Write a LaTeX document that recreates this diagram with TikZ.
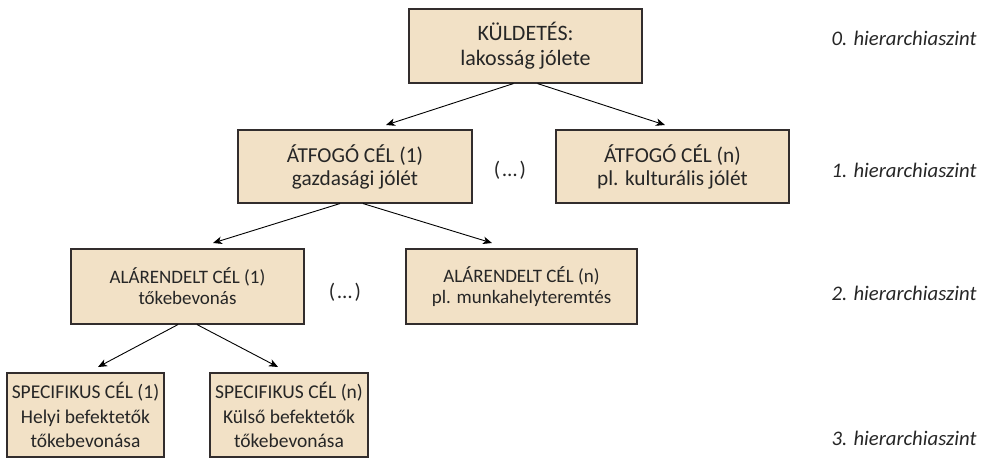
\documentclass[tikz,border=0pt]{standalone}
\usepackage{fontspec}
\setmainfont{Carlito}
\usetikzlibrary{arrows.meta,calc}
\definecolor{boxfill}{RGB}{242,225,198}
\definecolor{boxline}{RGB}{50,45,45}
\begin{document}
\begin{tikzpicture}[x=1pt,y=-1pt,
  goal/.style={draw=boxline,line width=1.1pt,fill=boxfill,align=center,inner sep=0pt,text=black!85},
  lvl0/.style={goal,font=\fontsize{22}{25}\selectfont},
  lvl1/.style={goal,font=\fontsize{21.3}{23}\selectfont},
  lvl2/.style={goal,font=\fontsize{19}{21}\selectfont},
  lvl3/.style={goal,font=\fontsize{19.5}{24.5}\selectfont},
  dots/.style={font=\fontsize{21}{22}\selectfont,text=black!85},
  level/.style={anchor=east,font=\fontsize{20.7}{22}\selectfont\itshape,text=black!85},
  conn/.style={line width=0.9pt,-{Stealth[length=9pt,width=7.5pt,inset=2.5pt]}}]
\useasboundingbox (0,0) rectangle (989,458);
% boxes
\node[lvl0,minimum width=233pt,minimum height=74pt] (k0) at (525.5,46) {KÜLDETÉS:\\lakosság jólete};
\node[lvl1,minimum width=234pt,minimum height=73pt] (a1) at (355,166.5) {ÁTFOGÓ CÉL (1)\\gazdasági jólét};
\node[lvl1,minimum width=233pt,minimum height=73pt] (an) at (672.5,166.5) {ÁTFOGÓ CÉL (n)\\pl. kulturális jólét};
\node[dots] (d1) at (510,170) {(\kern2.5pt…\kern2.5pt)};
\node[lvl2,minimum width=233pt,minimum height=75pt] (b1) at (187.5,286.5) {ALÁRENDELT CÉL (1)\\tőkebevonás};
\node[lvl2,minimum width=231pt,minimum height=75pt] (bn) at (521.5,286.5) {ALÁRENDELT CÉL (n)\\pl. munkahelyteremtés};
\node[dots] (d2) at (345,292) {(\kern2.5pt…\kern2.5pt)};
\node[lvl3,minimum width=157pt,minimum height=84pt] (c1) at (85.5,415) {SPECIFIKUS CÉL (1)\\Helyi befektetők\\tőkebevonása};
\node[lvl3,minimum width=158pt,minimum height=84pt] (cn) at (289,415) {SPECIFIKUS CÉL (n)\\Külső befektetők\\tőkebevonása};
% level labels
\node[level] (h0) at (980,38) {0. hierarchiaszint};
\node[level] (h1) at (980,170) {1. hierarchiaszint};
\node[level] (h2) at (980,293) {2. hierarchiaszint};
\node[level] (h3) at (980,438) {3. hierarchiaszint};
% arrow end points
\coordinate (s01) at ($(k0.south)+(-12,0)$);
\coordinate (s02) at ($(k0.south)+(12,0)$);
\coordinate (e01) at (386,125);
\coordinate (e02) at (665,125);
\coordinate (s11) at ($(a1.south)+(-15,0)$);
\coordinate (s12) at ($(a1.south)+(8,0)$);
\coordinate (e11) at (213,243);
\coordinate (e12) at (492,243);
\coordinate (s21) at ($(b1.south)+(-9.5,0)$);
\coordinate (s22) at ($(b1.south)+(9.5,0)$);
\coordinate (e21) at (98,367);
\coordinate (e22) at (278,367);
\draw[conn] (s01) -- (e01);
\draw[conn] (s02) -- (e02);
\draw[conn] (s11) -- (e11);
\draw[conn] (s12) -- (e12);
\draw[conn] (s21) -- (e21);
\draw[conn] (s22) -- (e22);
\end{tikzpicture}
\end{document}
